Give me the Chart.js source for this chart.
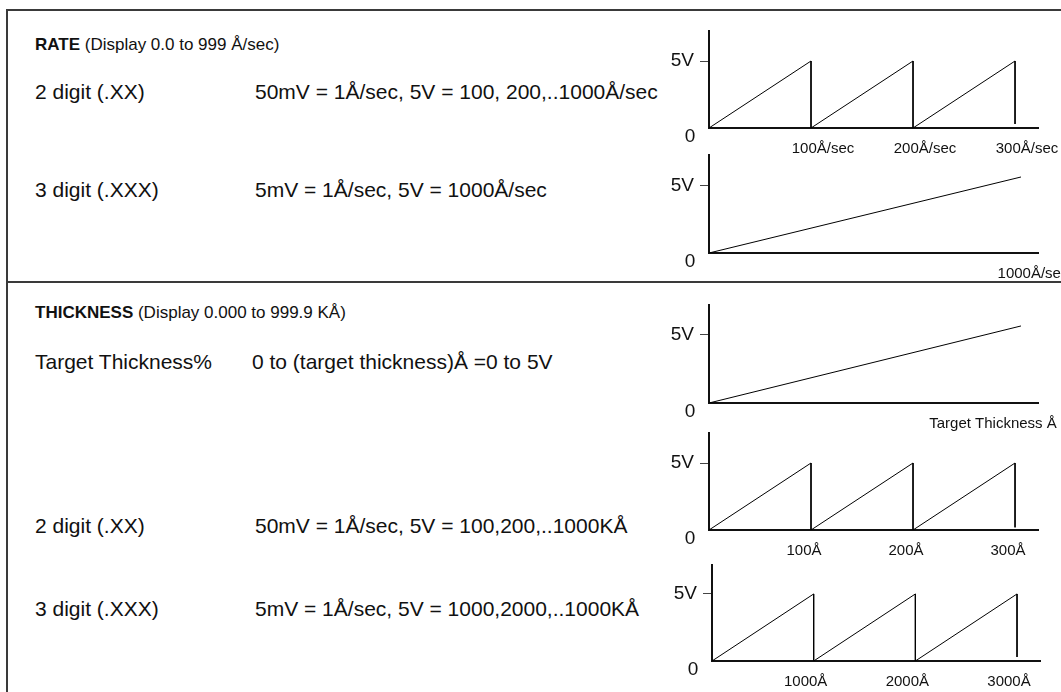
<!DOCTYPE html>
<html><head><meta charset="utf-8">
<script src="https://cdn.jsdelivr.net/npm/chart.js@4.4.1/dist/chart.umd.min.js"></script>
<style>
html,body{margin:0;padding:0;background:#fff;}
#page{position:relative;width:1061px;height:692px;overflow:hidden;font-family:"Liberation Sans",Arial,sans-serif;color:#111;}
.t{position:absolute;white-space:nowrap;font-size:21px;line-height:24px;transform:translateY(-50%);}
.h{font-size:17px;}
.t b{font-weight:bold;}
.frame{position:absolute;background:#3a3a3a;}
canvas.c{position:absolute;}
</style></head><body>
<div id="page">
  <div class="frame" style="left:6px;top:9px;width:1055px;height:2px"></div>
  <div class="frame" style="left:6px;top:9px;width:2px;height:683px"></div>
  <div class="frame" style="left:6px;top:281px;width:1055px;height:2px"></div>

  <div class="t h" style="left:35px;top:45px"><b>RATE</b> (Display 0.0 to 999 Å/sec)</div>
  <div class="t" style="left:35px;top:92px">2 digit (.XX)</div>
  <div class="t" style="left:255px;top:92px">50mV = 1Å/sec, 5V = 100, 200,..1000Å/sec</div>
  <div class="t" style="left:35px;top:190px">3 digit (.XXX)</div>
  <div class="t" style="left:255px;top:190px">5mV = 1Å/sec, 5V = 1000Å/sec</div>

  <div class="t h" style="left:35px;top:313px"><b>THICKNESS</b> (Display 0.000 to 999.9 KÅ)</div>
  <div class="t" style="left:35px;top:362px">Target Thickness%</div>
  <div class="t" style="left:252px;top:362px">0 to (target thickness)Å =0 to 5V</div>
  <div class="t" style="left:35px;top:526px">2 digit (.XX)</div>
  <div class="t" style="left:255px;top:526px">50mV = 1Å/sec, 5V = 100,200,..1000KÅ</div>
  <div class="t" style="left:35px;top:609px">3 digit (.XXX)</div>
  <div class="t" style="left:255px;top:609px">5mV = 1Å/sec, 5V = 1000,2000,..1000KÅ</div>

  <canvas class="c" id="c1"></canvas>
  <canvas class="c" id="c2"></canvas>
  <canvas class="c" id="c3"></canvas>
  <canvas class="c" id="c4"></canvas>
  <canvas class="c" id="c5"></canvas>
</div>
<script>
// ---- data ----
const yTickValues = [0, 5];
const yTickLabels = ['0', '5V'];

const rate2Ticks  = [100, 200, 300];
const rate2Labels = ['100Å/sec', '200Å/sec', '300Å/sec'];
const rate2X = [0, 100, 100, 200, 200, 300, 300];
const rate2Y = [0, 5, 0, 5, 0, 5, 0.3];

const rate3Ticks  = [1000];
const rate3Labels = ['1000Å/sec'];
const rate3X = [0, 1000];
const rate3Y = [0, 5.67];

const targetTicks  = [1000];
const targetLabels = ['Target Thickness Å'];
const targetX = [0, 1000];
const targetY = [0, 5.66];

const thk2Ticks  = [100, 200, 300];
const thk2Labels = ['100Å', '200Å', '300Å'];
const thk2X = [0, 100, 100, 200, 200, 300, 300];
const thk2Y = [0, 5, 0, 5, 0, 5, 0.2];

const thk3Ticks  = [1000, 2000, 3000];
const thk3Labels = ['1000Å', '2000Å', '3000Å'];
const thk3X = [0, 1000, 1000, 2000, 2000, 3000, 3000];
const thk3Y = [0, 5, 0, 5, 0, 5, 0.3];

// ---- layout (pixel geometry of each small plot) ----
const FONT = '"Liberation Sans", Arial, sans-serif';
const CANVAS_LEFT = 640, CANVAS_RIGHT = 1061;
const plots = [
  {id:'c1', axisX:709, top:31,  base:128, right:1038, xMax:322.5, yMax:7.24, labelOffset:12, xs:rate2X,  ys:rate2Y,  ticks:rate2Ticks,  labels:rate2Labels},
  {id:'c2', axisX:709, top:155, base:253, right:1038, xMax:1054.5, yMax:7.31, labelOffset:12, xs:rate3X,  ys:rate3Y,  ticks:rate3Ticks,  labels:rate3Labels},
  {id:'c3', axisX:709, top:305, base:403, right:1038, xMax:1054.5, yMax:7.2, labelOffset:-28, xs:targetX, ys:targetY, ticks:targetTicks, labels:targetLabels},
  {id:'c4', axisX:709, top:433, base:530, right:1038, xMax:322.5, yMax:7.24, labelOffset:-7, xs:thk2X,   ys:thk2Y,   ticks:thk2Ticks,   labels:thk2Labels},
  {id:'c5', axisX:712, top:565, base:661, right:1040, xMax:3226,  yMax:7.16, labelOffset:-8, xs:thk3X,   ys:thk3Y,   ticks:thk3Ticks,   labels:thk3Labels}
];

const zeroLabel = {
  id: 'zeroLabel',
  afterDraw(chart) {
    const {ctx, scales: {x, y}} = chart;
    ctx.save();
    ctx.font = '19px ' + FONT;
    ctx.fillStyle = '#111';
    ctx.textAlign = 'center';
    ctx.textBaseline = 'middle';
    ctx.fillText(yTickLabels[0], x.left - 19, y.getPixelForValue(yTickValues[0]) + 9);
    ctx.restore();
  }
};

plots.forEach(p => {
  const canvasTop = p.top - 8;
  const canvasBottom = p.base + 34;
  const W = CANVAS_RIGHT - CANVAS_LEFT, H = canvasBottom - canvasTop;
  const cv = document.getElementById(p.id);
  cv.width = W; cv.height = H;
  cv.style.left = CANVAS_LEFT + 'px'; cv.style.top = canvasTop + 'px';
  cv.style.width = W + 'px'; cv.style.height = H + 'px';

  new Chart(cv, {
    type: 'line',
    data: {
      datasets: [{
        data: p.xs.map((v, i) => ({x: v, y: p.ys[i]})),
        borderColor: '#000', borderWidth: 1, pointRadius: 0, tension: 0, fill: false
      }]
    },
    options: {
      responsive: false, animation: false, events: [],
      layout: {padding: {top: p.top - canvasTop, right: CANVAS_RIGHT - p.right, left: 0, bottom: 0}},
      plugins: {legend: {display: false}, tooltip: {enabled: false}, zeroLabel: {}},
      scales: {
        x: {
          type: 'linear', min: 0, max: p.xMax,
          border: {display: true, color: '#111', width: 2},
          grid: {display: false, drawTicks: false},
          afterBuildTicks: s => { s.ticks = p.ticks.map(v => ({value: v})); },
          afterFit: s => { s.height = canvasBottom - p.base; s.paddingLeft = 0; s.paddingRight = 0; },
          ticks: {
            autoSkip: false, maxRotation: 0, padding: 12, labelOffset: p.labelOffset,
            color: '#111', font: {family: FONT, size: 15},
            callback: (v) => p.labels[p.ticks.indexOf(v)]
          }
        },
        y: {
          type: 'linear', min: 0, max: p.yMax,
          border: {display: true, color: '#111', width: 2},
          grid: {
            display: true, drawOnChartArea: false, drawTicks: true, tickLength: 9, lineWidth: 1,
            color: c => (c.tick && c.tick.value === yTickValues[1]) ? '#444' : 'rgba(0,0,0,0)'
          },
          afterBuildTicks: s => { s.ticks = yTickValues.map(v => ({value: v})); },
          afterFit: s => { s.width = p.axisX - CANVAS_LEFT; s.paddingTop = 0; s.paddingBottom = 0; },
          ticks: {
            padding: 6, color: '#111', font: {family: FONT, size: 19},
            callback: (v) => v === yTickValues[1] ? yTickLabels[1] : ''
          }
        }
      }
    },
    plugins: [zeroLabel]
  });
});
</script>
</body></html>
